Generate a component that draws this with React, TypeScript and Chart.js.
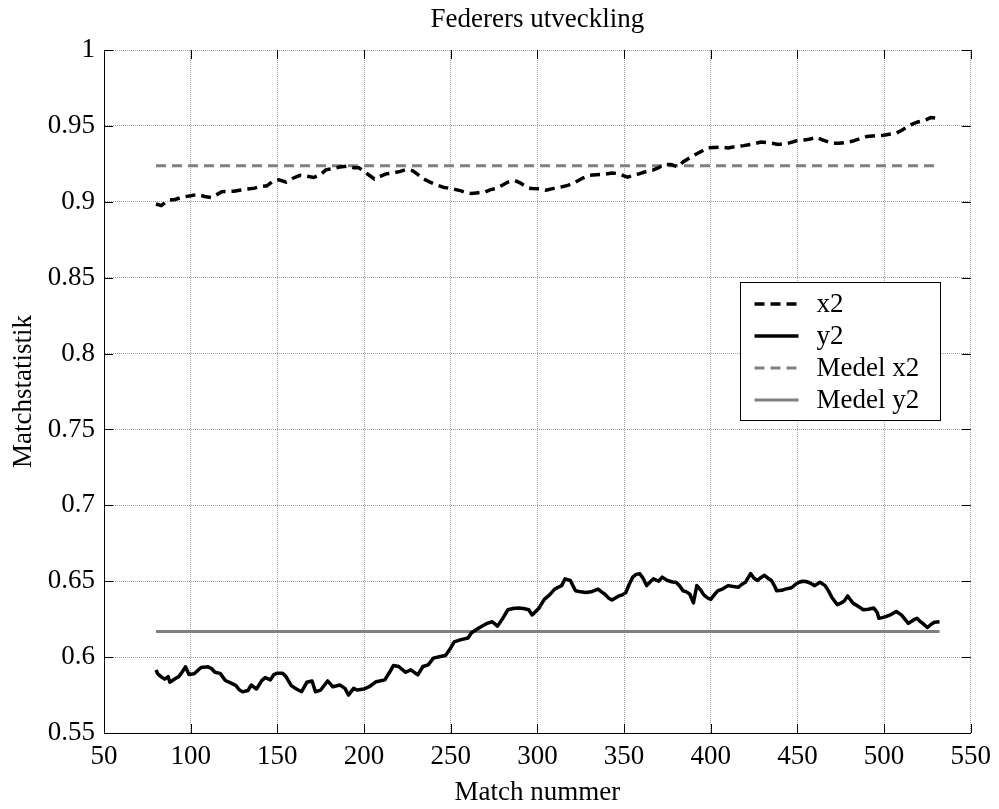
import React, { useEffect, useRef } from "react";
import { Chart, registerables } from "chart.js";

Chart.register(...registerables);

const TITLE = "Federers utveckling";
const X_LABEL = "Match nummer";
const Y_LABEL = "Matchstatistik";

const xTicks = [50, 100, 150, 200, 250, 300, 350, 400, 450, 500, 550];
const yTicks = [0.55, 0.6, 0.65, 0.7, 0.75, 0.8, 0.85, 0.9, 0.95, 1];

const seriesLabels = ["x2", "y2", "Medel x2", "Medel y2"];

const x2Match = [80, 83, 87, 91, 95, 100, 104, 108, 112, 118, 125, 129, 133, 137, 140, 144, 148, 151, 155, 159, 163, 167, 171, 175, 178, 182, 186, 190, 194, 197, 200, 203, 206, 210, 213, 217, 221, 224, 228, 231, 234, 238, 242, 246, 250, 253, 256, 259, 262, 266, 270, 273, 276, 280, 283, 287, 290, 292, 295, 297, 301, 305, 310, 314, 318, 322, 326, 330, 334, 338, 343, 347, 350, 352, 356, 359, 363, 367, 370, 373, 377, 381, 384, 388, 392, 395, 398, 402, 406, 410, 415, 419, 423, 426, 429, 432, 435, 439, 443, 446, 449, 452, 455, 458, 461, 464, 468, 471, 474, 478, 482, 486, 490, 495, 499, 503, 507, 510, 513, 516, 519, 523, 527, 530, 532];
const x2Values = [0.8985, 0.8975, 0.901, 0.9015, 0.903, 0.904, 0.9048, 0.9035, 0.9028, 0.9066, 0.907, 0.9078, 0.9084, 0.909, 0.91, 0.9105, 0.914, 0.9145, 0.913, 0.9155, 0.9174, 0.9168, 0.916, 0.918, 0.921, 0.922, 0.9229, 0.9235, 0.9225, 0.9225, 0.92, 0.9175, 0.915, 0.917, 0.9185, 0.919, 0.92, 0.9212, 0.9205, 0.918, 0.9153, 0.913, 0.911, 0.9095, 0.9087, 0.908, 0.9072, 0.906, 0.9054, 0.906, 0.9065, 0.908, 0.9087, 0.911, 0.913, 0.914, 0.9125, 0.911, 0.909, 0.9087, 0.9085, 0.9076, 0.909, 0.9098, 0.911, 0.913, 0.9155, 0.9175, 0.9178, 0.918, 0.919, 0.9185, 0.917, 0.9162, 0.9175, 0.9185, 0.92, 0.921, 0.9225, 0.9246, 0.9245, 0.923, 0.9262, 0.929, 0.9317, 0.9335, 0.9356, 0.9358, 0.936, 0.9355, 0.9365, 0.937, 0.9378, 0.9385, 0.9393, 0.939, 0.9386, 0.9378, 0.9382, 0.939, 0.94, 0.9405, 0.9408, 0.9415, 0.9426, 0.941, 0.9393, 0.9385, 0.9386, 0.939, 0.94, 0.9415, 0.943, 0.9435, 0.9437, 0.9445, 0.9452, 0.947, 0.9491, 0.951, 0.9524, 0.9535, 0.9555, 0.9552, 0.954];

const y2Match = [80, 81, 83, 85, 87, 88, 91, 93, 95, 97, 99, 102, 106, 110, 112, 114, 117, 120, 123, 126, 128, 130, 133, 135, 138, 141, 143, 146, 148, 150, 153, 155, 158, 161, 164, 167, 170, 172, 175, 179, 182, 186, 189, 191, 194, 196, 200, 203, 207, 212, 215, 217, 220, 224, 227, 231, 234, 237, 240, 244, 247, 250, 252, 256, 260, 262, 266, 269, 271, 274, 277, 280, 283, 286, 289, 292, 295, 297, 299, 301, 304, 307, 310, 312, 314, 316, 319, 322, 325, 328, 331, 335, 337, 339, 341, 343, 345, 347, 349, 351, 353, 355, 357, 359, 361, 363, 365, 367, 370, 372, 375, 378, 380, 382, 384, 386, 388, 390, 392, 394, 396, 398, 400, 402, 404, 407, 410, 413, 416, 418, 420, 423, 425, 427, 429, 431, 433, 435, 437, 438, 441, 443, 446, 447, 449, 451, 453, 455, 457, 460, 463, 466, 468, 470, 473, 475, 477, 479, 482, 485, 488, 491, 494, 496, 497, 499, 501, 504, 507, 510, 512, 514, 517, 519, 521, 523, 525, 527, 529, 532];
const y2Values = [0.5915, 0.589, 0.587, 0.5855, 0.5872, 0.5835, 0.5857, 0.587, 0.59, 0.5936, 0.5885, 0.589, 0.5932, 0.5936, 0.5925, 0.59, 0.5893, 0.5846, 0.583, 0.5814, 0.5785, 0.5771, 0.578, 0.5816, 0.579, 0.5845, 0.5865, 0.585, 0.5885, 0.5894, 0.5894, 0.5872, 0.5812, 0.579, 0.5772, 0.5834, 0.5843, 0.5772, 0.5783, 0.5843, 0.5805, 0.5816, 0.5794, 0.575, 0.5794, 0.5783, 0.579, 0.5805, 0.5838, 0.585, 0.5905, 0.5945, 0.5938, 0.59, 0.5916, 0.5883, 0.5938, 0.5949, 0.5993, 0.6004, 0.6011, 0.606, 0.61, 0.6115, 0.6126, 0.616, 0.619, 0.621, 0.6222, 0.6233, 0.6204, 0.6255, 0.6312, 0.632, 0.6324, 0.632, 0.6312, 0.6278, 0.63, 0.6324, 0.638, 0.641, 0.6448, 0.646, 0.6471, 0.6516, 0.6505, 0.6437, 0.643, 0.6425, 0.643, 0.6448, 0.643, 0.6414, 0.639, 0.6376, 0.639, 0.6403, 0.641, 0.6425, 0.648, 0.6527, 0.6545, 0.655, 0.652, 0.6471, 0.6495, 0.6516, 0.65, 0.6527, 0.6505, 0.6495, 0.6493, 0.647, 0.6437, 0.643, 0.6414, 0.6357, 0.6471, 0.6445, 0.641, 0.6391, 0.638, 0.641, 0.6437, 0.645, 0.6471, 0.6465, 0.646, 0.648, 0.6493, 0.655, 0.652, 0.6505, 0.6525, 0.6539, 0.652, 0.6505, 0.6465, 0.6437, 0.644, 0.6448, 0.6455, 0.646, 0.648, 0.6493, 0.65, 0.6498, 0.649, 0.6471, 0.6493, 0.6471, 0.6435, 0.6391, 0.6346, 0.6355, 0.6369, 0.6403, 0.6357, 0.6335, 0.6312, 0.6315, 0.6324, 0.6295, 0.6256, 0.626, 0.6267, 0.628, 0.6301, 0.6278, 0.625, 0.6222, 0.6245, 0.6256, 0.6233, 0.6215, 0.6195, 0.6215, 0.623, 0.6233];

const meanRange = [80, 532];
const meanX2 = 0.9238;
const meanY2 = 0.6168;

const FONT_FAMILY = "'Liberation Serif', 'Times New Roman', serif";
const FONT_SIZE = 27;
const GRAY = "#808080";

function zip(xs: number[], ys: number[]) {
  return xs.map((x, i) => ({ x, y: ys[i] }));
}

const axisFramePlugin = {
  id: "axisFrame",
  afterDraw(chart: any) {
    const { ctx, chartArea } = chart;
    const xs = chart.scales.x;
    const ys = chart.scales.y;
    const L = 9;
    ctx.save();
    ctx.strokeStyle = "#000";
    ctx.lineWidth = 1;
    ctx.setLineDash([]);
    ctx.beginPath();
    xTicks.forEach((v) => {
      const px = Math.round(xs.getPixelForValue(v)) + 0.5;
      ctx.moveTo(px, chartArea.bottom);
      ctx.lineTo(px, chartArea.bottom - L);
      ctx.moveTo(px, chartArea.top);
      ctx.lineTo(px, chartArea.top + L);
    });
    yTicks.forEach((v) => {
      const py = Math.round(ys.getPixelForValue(v)) + 0.5;
      ctx.moveTo(chartArea.left, py);
      ctx.lineTo(chartArea.left + L, py);
      ctx.moveTo(chartArea.right, py);
      ctx.lineTo(chartArea.right - L, py);
    });
    ctx.stroke();
    ctx.restore();
  },
};

const insideLegendPlugin = {
  id: "insideLegend",
  afterDraw(chart: any) {
    const { ctx, chartArea } = chart;
    const boxW = 200;
    const boxH = 138;
    const x0 = Math.round(chartArea.right - 31 - boxW) + 0.5;
    const y0 = Math.round(chartArea.top + 232) + 0.5;
    ctx.save();
    ctx.fillStyle = "#fff";
    ctx.fillRect(x0, y0, boxW, boxH);
    ctx.strokeStyle = "#000";
    ctx.lineWidth = 1;
    ctx.setLineDash([]);
    ctx.strokeRect(x0, y0, boxW, boxH);
    ctx.font = `${FONT_SIZE}px ${FONT_FAMILY}`;
    ctx.textBaseline = "middle";
    ctx.textAlign = "left";
    chart.data.datasets.forEach((ds: any, i: number) => {
      const cy = Math.round(y0 + 21 + i * 32.3);
      ctx.save();
      ctx.strokeStyle = ds.borderColor;
      ctx.lineWidth = ds.borderWidth;
      ctx.lineCap = "butt";
      ctx.setLineDash(ds.borderDash || []);
      ctx.beginPath();
      ctx.moveTo(x0 + 14, cy);
      ctx.lineTo(x0 + 58, cy);
      ctx.stroke();
      ctx.restore();
      ctx.fillStyle = "#000";
      ctx.fillText(ds.label, x0 + 76, cy + 1);
    });
    ctx.restore();
  },
};

export default function App() {
  const canvasRef = useRef<HTMLCanvasElement | null>(null);

  useEffect(() => {
    const canvas = canvasRef.current;
    if (!canvas) return;
    const font = { family: FONT_FAMILY, size: FONT_SIZE, weight: "normal" as const };
    const chart = new Chart(canvas, {
      type: "line",
      data: {
        datasets: [
          {
            label: seriesLabels[0],
            data: zip(x2Match, x2Values),
            borderColor: "#000",
            borderWidth: 3.5,
            borderDash: [10, 6],
            pointRadius: 0,
            tension: 0,
            fill: false,
          },
          {
            label: seriesLabels[1],
            data: zip(y2Match, y2Values),
            borderColor: "#000",
            borderWidth: 3.5,
            pointRadius: 0,
            tension: 0,
            fill: false,
            borderJoinStyle: "round",
          },
          {
            label: seriesLabels[2],
            data: zip(meanRange, [meanX2, meanX2]),
            borderColor: GRAY,
            borderWidth: 3,
            borderDash: [10, 6],
            pointRadius: 0,
            fill: false,
          },
          {
            label: seriesLabels[3],
            data: zip(meanRange, [meanY2, meanY2]),
            borderColor: GRAY,
            borderWidth: 3,
            pointRadius: 0,
            fill: false,
          },
        ],
      },
      options: {
        responsive: false,
        animation: false,
        devicePixelRatio: 1,
        layout: { padding: { left: 0, right: 26, top: 0, bottom: 0 } },
        plugins: {
          legend: { display: false },
          tooltip: { enabled: false },
          title: {
            display: true,
            text: TITLE,
            color: "#000",
            font,
            fullSize: false,
            padding: { top: 4, bottom: 13.6 },
          },
        },
        scales: {
          x: {
            type: "linear",
            min: 50,
            max: 550,
            afterBuildTicks: (s: any) => {
              s.ticks = xTicks.map((v) => ({ value: v }));
            },
            afterFit: (s: any) => {
              s.height = 76;
            },
            grid: { color: "#a0a0a0", lineWidth: 1, drawTicks: false },
            border: { display: true, color: "#000", width: 1, dash: [1, 1], z: 1 },
            ticks: {
              color: "#000",
              font,
              padding: 8,
              maxRotation: 0,
              autoSkip: false,
              callback: (v: any) => String(v),
            },
            title: {
              display: true,
              text: X_LABEL,
              color: "#000",
              font,
              padding: { top: 0, bottom: 0 },
            },
          },
          y: {
            type: "linear",
            min: 0.55,
            max: 1,
            afterBuildTicks: (s: any) => {
              s.ticks = yTicks.map((v) => ({ value: v }));
            },
            afterFit: (s: any) => {
              s.width = 104;
            },
            grid: { color: "#a0a0a0", lineWidth: 1, drawTicks: false },
            border: { display: true, color: "#000", width: 1, dash: [1, 1], z: 1 },
            ticks: {
              color: "#000",
              font,
              padding: 9,
              autoSkip: false,
              callback: (v: any) => String(Number(Number(v).toFixed(2))),
            },
            title: {
              display: true,
              text: Y_LABEL,
              color: "#000",
              font,
              padding: { top: 8, bottom: 0 },
            },
          },
        },
      },
      plugins: [axisFramePlugin, insideLegendPlugin],
    } as any);
    return () => chart.destroy();
  }, []);

  return (
    <div
      style={{
        position: "fixed",
        left: 0,
        top: 0,
        width: 999,
        height: 809,
        background: "#fff",
      }}
    >
      <canvas
        ref={canvasRef}
        width={999}
        height={809}
        style={{ display: "block", width: 999, height: 809 }}
      />
    </div>
  );
}
